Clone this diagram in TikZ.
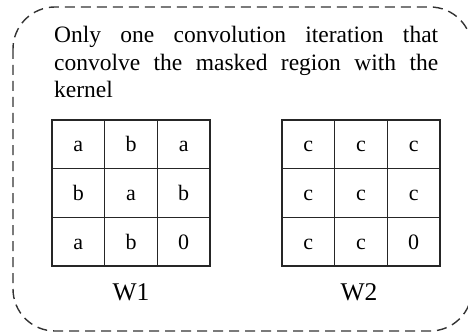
\documentclass[tikz,border=0pt]{standalone}
\usepackage{fontspec}
\setmainfont{Liberation Serif}
\begin{document}
\begin{tikzpicture}[x=1pt,y=-1pt,
  frame/.style={draw=black!80,line width=1.4pt,dash pattern=on 10pt off 6pt,rounded corners=42pt},
  cell/.style={draw=black!85,line width=1.6pt,minimum width=52.67pt,minimum height=48.67pt,inner sep=0pt,text height=15pt,text depth=0pt,font=\fontsize{22}{24}\selectfont,text=black},
  txt/.style={inner sep=0pt,anchor=base west,font=\fontsize{23.5}{26}\selectfont,text=black},
  lbl/.style={inner sep=0pt,font=\fontsize{25.5}{28}\selectfont,text=black}]
\useasboundingbox (0,0) rectangle (468,334);
\begin{scope}
\clip (0,0) rectangle (468,334);
\draw[frame] (13,7) rectangle (472,331);
\end{scope}
\node[txt] (l1) at (54,43) {\makebox[384pt][s]{Only one convolution iteration that}};
\node[txt] (l2) at (54,71) {\makebox[384pt][s]{convolve the masked region with the}};
\node[txt] (l3) at (54,98) {kernel};
% W1
\foreach \r/\row in {0/{a,b,a},1/{b,a,b},2/{a,b,0}}{
  \foreach \v [count=\c from 0] in \row {
    \node[cell] (w1-\r-\c) at (78.33+52.67*\c,144.33+48.67*\r) {\v};
  }
}
% W2
\foreach \r/\row in {0/{c,c,c},1/{c,c,c},2/{c,c,0}}{
  \foreach \v [count=\c from 0] in \row {
    \node[cell] (w2-\r-\c) at (308.33+52.67*\c,144.33+48.67*\r) {\v};
  }
}
\node[lbl] (W1) at (131,292) {W1};
\node[lbl] (W2) at (359,292) {W2};
\end{tikzpicture}
\end{document}
